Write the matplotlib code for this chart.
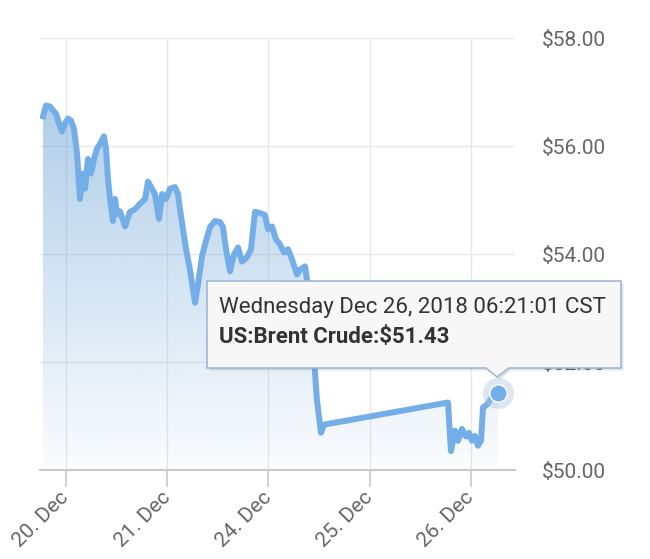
import numpy as np
import matplotlib
matplotlib.use("Agg")
import matplotlib.pyplot as plt
from matplotlib.patches import Polygon

plt.rcParams['font.family'] = ['Roboto', 'DejaVu Sans']

# trading-day position (0 = 20 Dec, 1 = 21 Dec, 2 = 24 Dec, ...) and Brent price
day_pos = [-0.227, -0.198, -0.158, -0.128, -0.099, -0.069, -0.040, -0.010, 0.020, 0.049,
           0.079, 0.109, 0.138, 0.168, 0.188, 0.217, 0.247, 0.277, 0.306, 0.336,
           0.375, 0.395, 0.415, 0.435, 0.464, 0.484, 0.504, 0.534, 0.583, 0.632,
           0.682, 0.731, 0.781, 0.810, 0.850, 0.879, 0.919, 0.949, 0.988, 1.028,
           1.077, 1.107, 1.126, 1.156, 1.186, 1.225, 1.255, 1.275, 1.304, 1.344,
           1.374, 1.423, 1.472, 1.522, 1.551, 1.581, 1.621, 1.660, 1.700, 1.739,
           1.789, 1.828, 1.868, 1.917, 1.966, 1.996, 2.036, 2.075, 2.115, 2.154,
           2.194, 2.233, 2.283, 2.312, 2.362, 2.381, 2.431, 2.480, 2.520, 2.549,
           3.775, 3.804, 3.844, 3.874, 3.913, 3.953, 3.982, 4.012, 4.042, 4.071,
           4.101, 4.121, 4.160, 4.200, 4.269]
price = [56.55, 56.75, 56.73, 56.66, 56.60, 56.42, 56.27, 56.42, 56.51, 56.47,
         56.32, 55.86, 55.02, 55.49, 55.21, 55.76, 55.49, 55.76, 55.95, 56.04,
         56.18, 55.95, 55.39, 55.02, 54.61, 55.02, 54.74, 54.79, 54.51, 54.78,
         54.83, 54.93, 55.02, 55.34, 55.21, 55.11, 54.65, 55.11, 55.02, 55.21,
         55.24, 55.11, 54.83, 54.46, 54.09, 53.71, 53.34, 53.10, 53.43, 53.96,
         54.18, 54.50, 54.61, 54.59, 54.50, 54.09, 53.68, 53.99, 54.12, 53.86,
         53.94, 54.09, 54.78, 54.76, 54.72, 54.46, 54.51, 54.27, 54.18, 54.03,
         54.09, 53.90, 53.62, 53.71, 53.77, 53.53, 52.59, 51.29, 50.69, 50.84,
         51.25, 50.35, 50.73, 50.54, 50.76, 50.62, 50.69, 50.54, 50.63, 50.45,
         50.54, 51.16, 51.21, 51.32, 51.43]

tick_pos = [0, 1, 2, 3, 4]
tick_labels = ['20. Dec', '21. Dec', '24. Dec', '25. Dec', '26. Dec']
y_ticks = [50, 52, 54, 56, 58]

tip_line1 = 'Wednesday Dec 26, 2018 06:21:01 CST'
tip_line2 = r'US:Brent Crude:\$51.43'

blue = '#74aee8'
W, H = 650, 559

fig = plt.figure(figsize=(6.5, 5.59), dpi=100)
ax = fig.add_axes([40 / W, (H - 470) / H, 475 / W, 432 / H])
ax.set_xlim(-0.257, 4.437)
ax.set_ylim(50, 58)

# gradient area under the line
poly = ax.fill_between(day_pos, price, 50, facecolor='none', edgecolor='none')
grad = np.zeros((256, 2, 4))
base = np.array([0x6f, 0xa6, 0xd8]) / 255
grad[:, :, :3] = base
grad[:, :, 3] = np.linspace(0.64, 0.03, 256)[:, None]
im = ax.imshow(grad, extent=[-0.257, 4.437, 50, 58], origin='upper', aspect='auto',
               zorder=1, interpolation='bilinear')
im.set_clip_path(poly.get_paths()[0], transform=ax.transData)

ax.plot(day_pos, price, color=blue, lw=4.3, solid_joinstyle='round', zorder=3)

# hover marker
ax.scatter([day_pos[-1]], [price[-1]], s=500, color='#a9c3dd', alpha=0.4, zorder=4, lw=0)
ax.plot(day_pos[-1], price[-1], 'o', ms=12.5, color=blue, mec='white', mew=1, zorder=5)

ax.set_xticks(tick_pos)
ax.set_xticklabels(tick_labels, rotation=45, ha='right', va='center', rotation_mode='anchor')
ax.set_yticks(y_ticks)
ax.set_yticklabels([r'\$%.2f' % v for v in y_ticks])
ax.yaxis.tick_right()
ax.tick_params(axis='y', length=0, pad=19, labelsize=15, labelcolor='#666666')
ax.tick_params(axis='x', length=12, width=1.2, color='#c8c8c8', pad=6, labelsize=15,
               labelcolor='#666666')
ax.grid(True, color='#e8e8e8', lw=1)
ax.set_axisbelow(True)
for side in ['top', 'left', 'right']:
    ax.spines[side].set_visible(False)
ax.spines['bottom'].set_color('#c8c8c8')
ax.spines['bottom'].set_linewidth(1.5)

# tooltip (in figure pixel coordinates)
x0, x1, yt, yb = 207, 621, 281, 368
tip_x, tip_y = 497, 377
box = [(x0, yt), (x1, yt), (x1, yb), (509, yb), (tip_x, tip_y), (486, yb), (x0, yb)]
box = [(x / W, 1 - y / H) for x, y in box]
for k in range(1, 4):
    shadow = Polygon([(x + k * 1.0 / W, y - k * 1.0 / H) for x, y in box], closed=True,
                     transform=fig.transFigure, facecolor='black', alpha=0.05, lw=0)
    fig.add_artist(shadow)
fig.add_artist(Polygon(box, closed=True, transform=fig.transFigure, facecolor='#f7f7f7',
                       edgecolor='#9db9d6', lw=1.2))
fig.text(219 / W, 1 - 308 / H, tip_line1, fontsize=16, color='#333333', va='center')
fig.text(219 / W, 1 - 337 / H, tip_line2, fontsize=16, color='#333333', va='center',
         fontweight='bold')

fig.savefig('out.png', dpi=100)
